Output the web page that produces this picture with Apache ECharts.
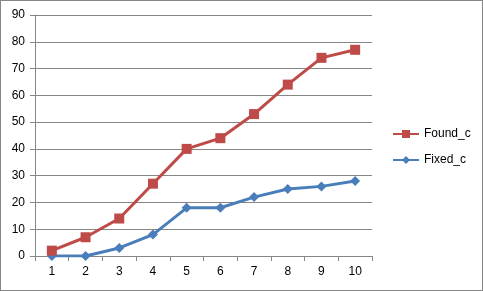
<!DOCTYPE html>
<html><head><meta charset="utf-8">
<script src="https://cdn.jsdelivr.net/npm/echarts@6/dist/echarts.min.js"></script>
<style>html,body{margin:0;padding:0;background:#fff}
#wrap{position:absolute;left:0;top:0;width:483px;height:291px;box-sizing:border-box;border:1px solid #868686;}
#c{position:absolute;left:0;top:0;width:483px;height:291px;}</style>
</head><body><div id="wrap"></div><div id="c"></div>
<script>
var categories = ['1','2','3','4','5','6','7','8','9','10'];
var foundValues = [2, 7, 14, 27, 40, 44, 53, 64, 74, 77];
var fixedValues = [0, 0, 3, 8, 18, 18, 22, 25, 26, 28];
var seriesNames = ['Found_c', 'Fixed_c'];

var chart = echarts.init(document.getElementById('c'), null, {renderer: 'canvas'});
var font = 'Liberation Sans, Arial, sans-serif';
chart.setOption({
  animation: false,
  backgroundColor: 'transparent',
  grid: {left: 35, right: 111, top: 15, bottom: 35, containLabel: false},
  legend: {
    orient: 'vertical', left: 392, top: 128, itemGap: 14, padding: 0,
    itemWidth: 26, itemHeight: 10,
    textStyle: {fontFamily: font, fontSize: 12, color: '#000'},
    data: [{name: seriesNames[0]}, {name: seriesNames[1]}]
  },
  xAxis: {
    type: 'category', data: categories, boundaryGap: true,
    axisLine: {lineStyle: {color: '#868686', width: 1}},
    axisTick: {show: true, inside: false, length: 5, lineStyle: {color: '#868686'}},
    axisLabel: {fontFamily: font, fontSize: 12, color: '#000', margin: 10},
    splitLine: {show: false}
  },
  yAxis: {
    type: 'value', min: 0, max: 90, interval: 10,
    axisLine: {show: true, lineStyle: {color: '#868686', width: 1}},
    axisTick: {show: true, length: 5, lineStyle: {color: '#868686'}},
    axisLabel: {fontFamily: font, fontSize: 12, color: '#000', margin: 10},
    splitLine: {show: true, lineStyle: {color: '#868686', width: 1}}
  },
  series: [
    {name: seriesNames[0], type: 'line', data: foundValues, symbol: 'rect', symbolSize: 10,
     lineStyle: {color: '#BE4B48', width: 3}, itemStyle: {color: '#BE4B48'}, z: 3},
    {name: seriesNames[1], type: 'line', data: fixedValues, symbol: 'diamond', symbolSize: 10,
     lineStyle: {color: '#4A7EBB', width: 3}, itemStyle: {color: '#4A7EBB'}, z: 2}
  ]
});
</script></body></html>
